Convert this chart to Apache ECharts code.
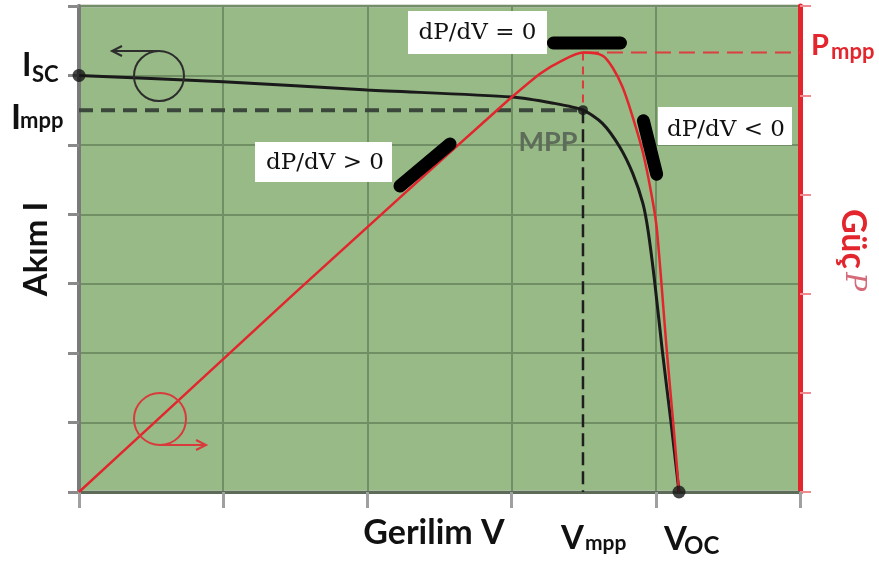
<!DOCTYPE html>
<html>
<head>
<meta charset="utf-8">
<script src="https://cdn.jsdelivr.net/npm/echarts@6/dist/echarts.min.js"></script>
<style>
html,body{margin:0;padding:0;background:#fff;}
#chart{width:879px;height:563px;}
</style>
</head>
<body>
<div id="chart"></div>
<script>
// ---- axis ranges ----
const X_MAX = 5;      // voltage axis (5 grid intervals)
const I_MAX = 7;      // current axis (7 grid intervals)
const P_MAX = 4.9;    // power axis

// ---- I-V curve (black) ----
const ivVoltage = [0, 1.0, 2.0, 3.0, 3.29, 3.495, 3.63, 3.75, 3.84, 3.91, 3.946, 3.991, 4.046, 4.105, 4.161];
const ivCurrent = [6.0, 5.91, 5.79, 5.69, 5.60, 5.50, 5.31, 4.97, 4.59, 4.16, 3.77, 3.05, 2.02, 1.01, 0];

// ---- P-V curve (red) ----
const pvVoltage = [0, 0.5, 1.0, 1.5, 2.0, 2.5, 2.8, 3.0, 3.2, 3.35, 3.495, 3.63, 3.7, 3.77, 3.84, 3.911, 3.974, 4.008, 4.077, 4.12, 4.161];
const pvPower   = [0, 0.67, 1.34, 2.01, 2.67, 3.33, 3.72, 3.98, 4.22, 4.35, 4.43, 4.40, 4.28, 4.08, 3.78, 3.42, 2.97, 2.64, 1.41, 0.71, 0];

// ---- key points ----
const Isc = 6.0, Voc = 4.161;
const Vmpp = 3.495, Impp = 5.5, Pmpp = 4.43;

// ---- tangent segments (voltage, power) ----
const tangentRising  = [[2.226, 3.085], [2.573, 3.509]];
const tangentZero    = [[3.29, 4.527], [3.755, 4.527]];
const tangentFalling = [[3.914, 3.743], [4.006, 3.204]];

// ---- text ----
const annotationTexts = ['dP/dV = 0', 'dP/dV > 0', 'dP/dV < 0'];

const zip = (a, b) => a.map((v, i) => [v, b[i]]);

const chart = echarts.init(document.getElementById('chart'), null, {renderer: 'canvas'});

const RED = '#e3262d';
const LBL = 'Lato, "Open Sans", sans-serif';

function dashed(data, yIdx, color, width, dash) {
  return {
    type: 'line', yAxisIndex: yIdx, data: data, symbol: 'none', silent: true,
    lineStyle: {color: color, width: width, type: dash}, z: 3
  };
}
function bar(data) {
  return {
    type: 'line', yAxisIndex: 1, data: data, symbol: 'none', silent: true,
    lineStyle: {color: '#000', width: 13, cap: 'round'}, z: 8
  };
}
function txt(x, y, text, font, fill, align, extra) {
  return Object.assign({
    type: 'text', x: x, y: y, z: 100, silent: true,
    style: {text: text, font: font, fill: fill, align: align || 'left', textAlign: align || 'left',
            verticalAlign: 'middle', textVerticalAlign: 'middle'}
  }, extra || {});
}

const option = {
  animation: false,
  backgroundColor: '#ffffff',
  grid: {
    left: 79, right: 79, top: 6, bottom: 71,
    show: true, backgroundColor: '#97ba86', borderColor: '#b8b8b8', borderWidth: 3,
    containLabel: false, outerBoundsMode: 'none'
  },
  xAxis: {
    type: 'value', min: 0, max: X_MAX, interval: 1,
    axisLine: {show: true, onZero: false, lineStyle: {color: '#5d6b58', width: 3}},
    axisTick: {show: true, inside: false, length: 16, lineStyle: {color: '#a0a0a0', width: 3}},
    axisLabel: {show: false},
    splitLine: {show: true, lineStyle: {color: '#718f65', width: 2}}
  },
  yAxis: [
    {
      type: 'value', min: 0, max: I_MAX, interval: 1, position: 'left',
      axisLine: {show: true, onZero: false, lineStyle: {color: '#7a7a7a', width: 4}},
      axisTick: {show: true, inside: false, length: 11, lineStyle: {color: '#8a8a8a', width: 3}},
      axisLabel: {show: false},
      splitLine: {show: true, lineStyle: {color: '#718f65', width: 2}}
    },
    {
      type: 'value', min: 0, max: P_MAX, interval: 1, position: 'right',
      axisLine: {show: true, onZero: false, lineStyle: {color: RED, width: 5}},
      axisTick: {show: true, inside: false, length: 11, lineStyle: {color: '#f08a8e', width: 2}},
      axisLabel: {show: false},
      splitLine: {show: false}
    }
  ],
  series: [
    dashed([[0, Impp], [Vmpp, Impp]], 0, '#3b473a', 4, [14, 8]),
    dashed([[Vmpp, Impp], [Vmpp, 0]], 0, '#1e1e1e', 2.5, [13, 6]),
    dashed([[Vmpp, Pmpp], [Vmpp, Impp / I_MAX * P_MAX]], 1, '#e0393c', 2, [8, 6]),
    dashed([[Vmpp, Pmpp], [X_MAX, Pmpp]], 1, '#dc3f3f', 2, [16, 8]),
    {
      type: 'line', yAxisIndex: 0, data: zip(ivVoltage, ivCurrent), symbol: 'none',
      smooth: 0.25, silent: true, z: 4,
      lineStyle: {color: '#1a1a1a', width: 3}
    },
    {
      type: 'line', yAxisIndex: 1, data: zip(pvVoltage, pvPower), symbol: 'none',
      smooth: 0.25, silent: true, z: 5,
      lineStyle: {color: RED, width: 2.5}
    },
    {
      type: 'scatter', yAxisIndex: 0, clip: false, silent: true, z: 6,
      data: [[0, Isc], [Voc, 0]], symbolSize: 13, itemStyle: {color: '#161616'}
    },
    {
      type: 'scatter', yAxisIndex: 0, clip: false, silent: true, z: 6,
      data: [[Vmpp, Impp]], symbolSize: 10, itemStyle: {color: '#161616'}
    },
    bar(tangentRising),
    bar(tangentZero),
    bar(tangentFalling)
  ],
  graphic: [
    // annotation boxes
    {type: 'rect', z: 99, silent: true, shape: {x: 408, y: 11, width: 139, height: 43}, style: {fill: '#fff'}},
    {type: 'rect', z: 99, silent: true, shape: {x: 255, y: 142, width: 137, height: 40}, style: {fill: '#fff'}},
    {type: 'rect', z: 99, silent: true, shape: {x: 658, y: 107, width: 134, height: 38}, style: {fill: '#fff'}},
    txt(477.5, 33, annotationTexts[0], '23px "DejaVu Serif", serif', '#111', 'center'),
    txt(325, 163, annotationTexts[1], '23px "DejaVu Serif", serif', '#111', 'center'),
    txt(726, 130, annotationTexts[2], '23px "DejaVu Serif", serif', '#111', 'center'),
    // left labels
    txt(22, 66, 'I', 'bold 32px ' + LBL, '#111'),
    txt(32, 75, 'SC', 'bold 22px ' + LBL, '#111'),
    txt(11, 118, 'I', 'bold 34px ' + LBL, '#111'),
    txt(20, 121, 'mpp', 'bold 22px ' + LBL, '#111'),
    txt(36, 249, 'Akım I', 'bold 33px ' + LBL, '#111', 'center', {rotation: Math.PI / 2}),
    // right labels
    txt(811, 46, 'P', 'bold 29px ' + LBL, RED),
    txt(831, 52, 'mpp', 'bold 22px ' + LBL, RED),
    {
      type: 'text', x: 853, y: 250, z: 100, silent: true, rotation: -Math.PI / 2,
      style: {
        text: '{a|Güç} {b|P}', align: 'center', textAlign: 'center', verticalAlign: 'middle', textVerticalAlign: 'middle',
        rich: {
          a: {font: 'bold 34px ' + LBL, fill: RED, color: RED},
          b: {font: 'italic 28px "DejaVu Serif", serif', fill: '#d66a78', color: '#d66a78'}
        }
      }
    },
    // bottom labels
    txt(434, 533, 'Gerilim V', 'bold 34px ' + LBL, '#111', 'center'),
    txt(561, 538, 'V', 'bold 33px ' + LBL, '#111'),
    txt(585, 543, 'mpp', 'bold 21px ' + LBL, '#111'),
    txt(664, 539, 'V', 'bold 33px ' + LBL, '#111'),
    txt(684, 546, 'OC', 'bold 24px ' + LBL, '#111'),
    // MPP label
    txt(548, 142, 'MPP', 'bold 27px ' + LBL, '#5d6d5a', 'center'),
    // rotation arrows
    {type: 'circle', z: 100, silent: true, shape: {cx: 159, cy: 76, r: 25}, style: {fill: 'none', stroke: '#2d2d2d', lineWidth: 2}},
    {type: 'line', z: 100, silent: true, shape: {x1: 159, y1: 51, x2: 112, y2: 51}, style: {stroke: '#2d2d2d', lineWidth: 2}},
    {type: 'polyline', z: 100, silent: true, shape: {points: [[122, 46], [112, 51], [122, 56]]}, style: {fill: 'none', stroke: '#2d2d2d', lineWidth: 2}},
    {type: 'circle', z: 100, silent: true, shape: {cx: 160, cy: 419, r: 26}, style: {fill: 'none', stroke: '#d93a3c', lineWidth: 2}},
    {type: 'line', z: 100, silent: true, shape: {x1: 160, y1: 445, x2: 206, y2: 445}, style: {stroke: '#d93a3c', lineWidth: 2}},
    {type: 'polyline', z: 100, silent: true, shape: {points: [[196, 440], [206, 445], [196, 450]]}, style: {fill: 'none', stroke: '#d93a3c', lineWidth: 2}}
  ]
};
chart.setOption(option);
</script>
</body>
</html>
